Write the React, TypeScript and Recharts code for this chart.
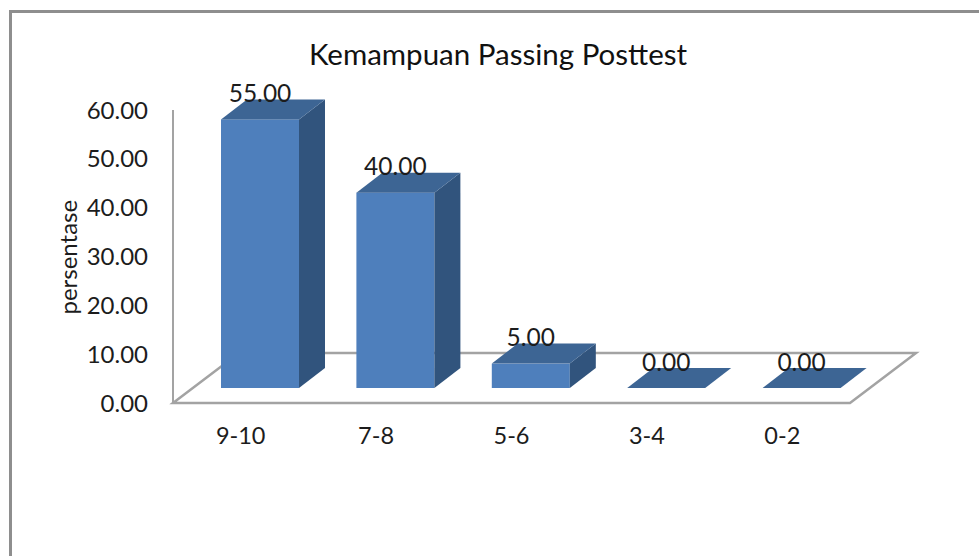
import { Bar, BarChart, LabelList, ReferenceLine, XAxis, YAxis } from "recharts";

const categories = ["9-10", "7-8", "5-6", "3-4", "0-2"];
const values = [55, 40, 5, 0, 0];
const yTicks = [0, 10, 20, 30, 40, 50, 60];

const chartData = categories.map((name, i) => ({ name, value: values[i] }));

const FONT = "Lato, Carlito, sans-serif";
const TEXT = "#1c1c1c";
const AXIS_LINE = "#a3a3a3";

// the 3d look: front face sits forward of the axis plane, depth goes up and right
const SHIFT_X = 19;
const SHIFT_Y = -15;
const DEPTH_X = 26;
const DEPTH_Y = 20;

function Bar3D({ x, y, width, height }: any) {
  const l = x + SHIFT_X;
  const r = l + width;
  const t = y + SHIFT_Y;
  const b = t + height;
  return (
    <g>
      {height > 0 && <rect x={l} y={t} width={width} height={height} fill="#4e7fbc" />}
      {height > 0 && (
        <polygon
          points={`${r},${t} ${r + DEPTH_X},${t - DEPTH_Y} ${r + DEPTH_X},${b - DEPTH_Y} ${r},${b}`}
          fill="#31547d"
        />
      )}
      <polygon
        points={`${l},${t} ${l + DEPTH_X},${t - DEPTH_Y} ${r + DEPTH_X},${t - DEPTH_Y} ${r},${t}`}
        fill="#3d6594"
      />
    </g>
  );
}

function Floor({ x1, y1, x2, y2 }: any) {
  return (
    <polygon
      points={`${x1},${y1} ${x2},${y2} ${x2 + 66},${y2 - 50} ${x1 + 66},${y1 - 50}`}
      fill="none"
      stroke={AXIS_LINE}
      strokeWidth={2.5}
    />
  );
}

function BarValue({ x, y, width, value }: any) {
  return (
    <text
      x={x + width / 2 + SHIFT_X}
      y={y - 42}
      textAnchor="middle"
      dominantBaseline="central"
      fontFamily={FONT}
      fontSize={24.5}
      fill={TEXT}
    >
      {Number(value).toFixed(2)}
    </text>
  );
}

export default function App() {
  return (
    <div
      style={{
        position: "absolute",
        left: 0,
        top: 0,
        width: 979,
        height: 556,
        overflow: "hidden",
        background: "#fff",
      }}
    >
      <div
        style={{
          position: "absolute",
          left: 9,
          top: 10,
          width: 1000,
          height: 600,
          borderLeft: "3px solid #8e8e8e",
          borderTop: "3px solid #8e8e8e",
        }}
      />
      <div style={{ position: "absolute", left: 0, top: 0 }}>
        <BarChart
          width={979}
          height={556}
          data={chartData}
          margin={{ top: 110, right: 129, bottom: 123, left: 73 }}
        >
          <text
            x={498}
            y={53}
            textAnchor="middle"
            dominantBaseline="central"
            fontFamily={FONT}
            fontSize={29.5}
            fill="#111"
          >
            Kemampuan Passing Posttest
          </text>
          <XAxis
            dataKey="name"
            axisLine={false}
            tickLine={false}
            tickMargin={18}
            tick={{ fontFamily: FONT, fontSize: 23.5, fill: TEXT }}
          />
          <YAxis
            width={100}
            domain={[0, 60]}
            ticks={yTicks}
            interval={0}
            axisLine={{ stroke: AXIS_LINE, strokeWidth: 2 }}
            tickLine={false}
            tickSize={0}
            tickMargin={25}
            tickFormatter={(v: number) => v.toFixed(2)}
            tick={{ fontFamily: FONT, fontSize: 24, fill: TEXT }}
            label={{
              value: "persentase",
              angle: -90,
              position: "insideLeft",
              offset: 0,
              dx: -5,
              dy: 58,
              style: { fontFamily: FONT, fontSize: 24, fill: TEXT },
            }}
          />
          <ReferenceLine y={0} shape={Floor} zIndex={-50} />
          <Bar dataKey="value" barSize={78} isAnimationActive={false} shape={Bar3D}>
            <LabelList dataKey="value" content={BarValue} />
          </Bar>
        </BarChart>
      </div>
    </div>
  );
}
